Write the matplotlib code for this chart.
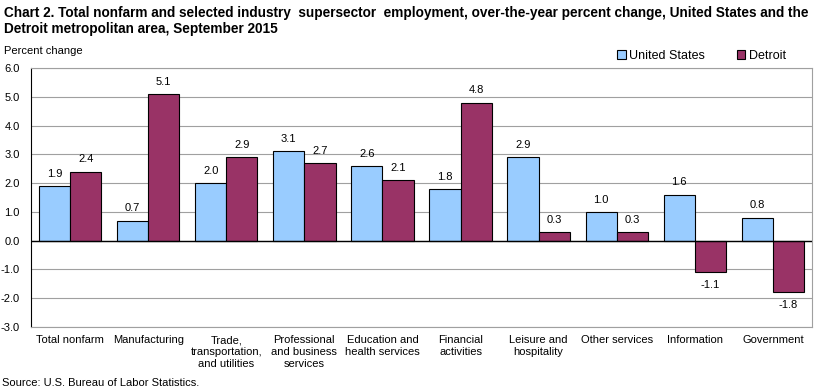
import numpy as np
import matplotlib.pyplot as plt

plt.rcParams['font.family'] = ['Liberation Sans', 'DejaVu Sans']

# Datos
categorias = ["Total nonfarm", "Manufacturing", "Trade,\ntransportation,\nand utilities",
              "Professional\nand business\nservices", "Education and\nhealth services",
              "Financial\nactivities", "Leisure and\nhospitality", "Other services",
              "Information", "Government"]
estados_unidos = [1.9, 0.7, 2.0, 3.1, 2.6, 1.8, 2.9, 1.0, 1.6, 0.8]
detroit = [2.4, 5.1, 2.9, 2.7, 2.1, 4.8, 0.3, 0.3, -1.1, -1.8]
yticks = np.arange(-3.0, 6.01, 1.0)

cor_us = "#99CCFF"
cor_det = "#993366"

fig = plt.figure(figsize=(8.25, 3.92), dpi=100)
ax = fig.add_axes([31/825, 1 - 327/392, (812 - 31)/825, (327 - 68)/392])

x = np.arange(len(categorias))
w = 0.4
b1 = ax.bar(x - w/2, estados_unidos, w, color=cor_us, edgecolor="black", linewidth=0.8,
            label="United States", zorder=3)
b2 = ax.bar(x + w/2, detroit, w, color=cor_det, edgecolor="black", linewidth=0.8,
            label="Detroit", zorder=3)

# Rótulos dos valores
for barras, vals in ((b1, estados_unidos), (b2, detroit)):
    for r, v in zip(barras, vals):
        xc = r.get_x() + r.get_width()/2
        if v >= 0:
            ax.text(xc, v + 0.25, f"{v:.1f}", ha="center", va="bottom", fontsize=8)
        else:
            ax.text(xc, v - 0.25, f"{v:.1f}", ha="center", va="top", fontsize=8)

ax.set_xlim(-0.5, len(categorias) - 0.5)
ax.set_ylim(-3.0, 6.0)
ax.set_yticks(yticks)
ax.set_yticklabels([f"{t:.1f}" for t in yticks], fontsize=8)
ax.set_xticks(x)
ax.set_xticklabels(categorias, fontsize=8, linespacing=1.2)
ax.tick_params(axis="both", length=0, pad=6)
ax.tick_params(axis="y", pad=8)

ax.grid(axis="y", color="#A0A0A0", linewidth=0.8, zorder=0)
ax.axhline(0, color="black", linewidth=1.0, zorder=4)
for s in ("top", "right", "bottom"):
    ax.spines[s].set_color("#A0A0A0")
ax.spines["left"].set_color("black")

fig.text(4/825, 1 - 21/392, "Chart 2. Total nonfarm and selected industry  supersector  employment, over-the-year percent change, United States and the\nDetroit metropolitan area, September 2015",
         fontsize=9.8, fontweight="bold", va="center", ha="left", linespacing=1.15)
fig.text(4/825, 1 - 51/392, "Percent change", fontsize=8, va="center")
fig.text(2/825, 1 - 383/392, "Source: U.S. Bureau of Labor Statistics.", fontsize=8, va="center")

ax.legend(loc="lower right", bbox_to_anchor=(0.975, 1.0), ncol=2, frameon=False, fontsize=9,
          handlelength=0.7, handleheight=0.7, handletextpad=0.3, columnspacing=2.5,
          borderaxespad=0.1)

fig.savefig("out.png", dpi=100)
